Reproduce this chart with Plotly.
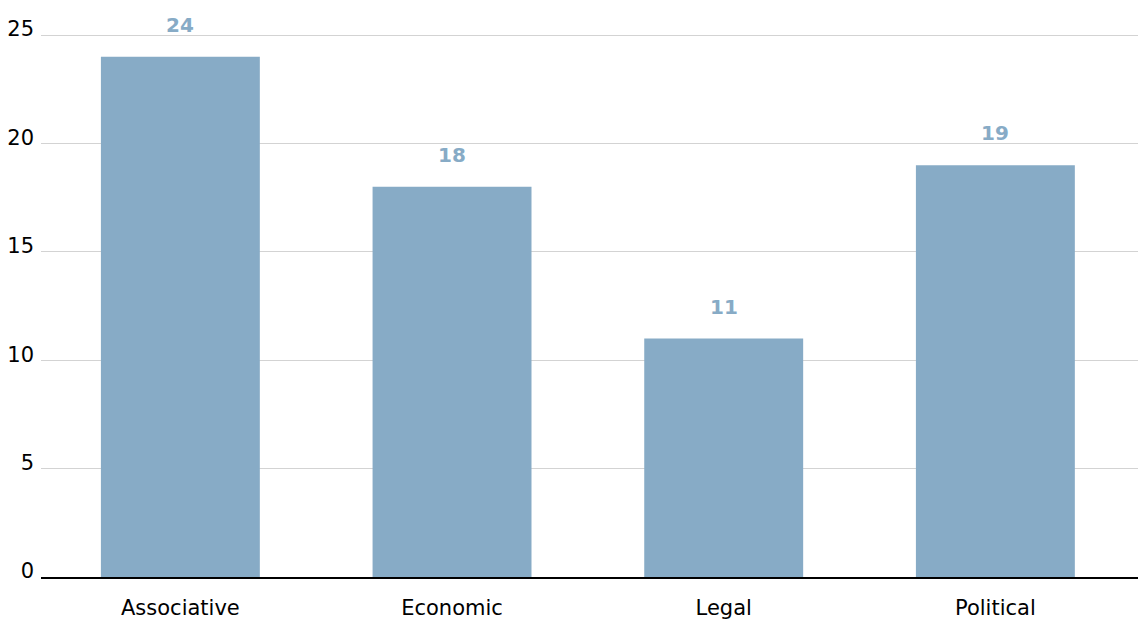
import plotly.graph_objects as go

categories = ["Associative", "Economic", "Legal", "Political"]
values = [24, 18, 11, 19]
y_ticks = [0, 5, 10, 15, 20, 25]

bar_color = "#87abc6"
font_family = "DejaVu Sans, Noto Sans, sans-serif"

fig = go.Figure()
fig.add_trace(go.Bar(
    x=categories,
    y=values,
    marker=dict(color=bar_color, line=dict(width=0)),
    width=0.585,
    hoverinfo="skip",
))

# Value labels sitting above each bar
for cat, val in zip(categories, values):
    fig.add_annotation(
        x=cat, y=val, text=f"<b>{val}</b>", showarrow=False,
        yshift=32, font=dict(family=font_family, size=20, color=bar_color),
    )

fig.update_layout(
    width=1138, height=619,
    margin=dict(l=41, r=0, t=34, b=42),
    paper_bgcolor="white", plot_bgcolor="white",
    showlegend=False,
    font=dict(family=font_family, color="black"),
    xaxis=dict(
        type="category",
        range=[-0.513, 3.525],
        automargin=False,
        showgrid=False, zeroline=False,
        showline=True, linecolor="black", linewidth=1.5,
        ticks="", ticklabelstandoff=11,
        tickfont=dict(size=21, color="black"),
    ),
    yaxis=dict(
        range=[0, 25.05],
        tickvals=y_ticks,
        automargin=False,
        showgrid=True, gridcolor="#d3d3d3", gridwidth=1,
        zeroline=False, showline=False,
        ticks="", ticklabelstandoff=6, ticklabelshift=-6,
        tickfont=dict(size=21, color="black"),
    ),
)

fig.write_html("out.html")
